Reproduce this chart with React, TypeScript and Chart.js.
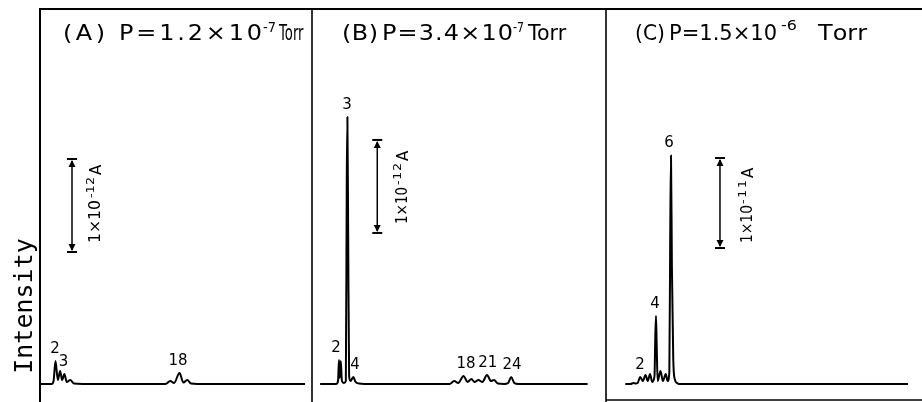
import React, { useEffect, useRef } from "react";
import { Chart, registerables } from "chart.js";

Chart.register(...registerables);

// ---------------- data: mass number (m/e) vs ion current in pA (1e-12 A) ----------------
const massA = [0.1, 1.5, 1.75, 2.0, 2.3, 2.6, 2.85, 3.15, 3.45, 3.9, 4.4, 5.5, 16.2, 16.8, 17.3, 18.0, 18.5, 19.0, 19.5, 20.3, 34.2];
const currentA = [0, 0, 0.032, 0.247, 0.043, 0.14, 0.043, 0.108, 0.022, 0.043, 0.005, 0, 0, 0.032, 0.011, 0.118, 0.016, 0.043, 0.005, 0, 0];

const massB = [-0.5, 1.55, 1.8, 1.92, 2.03, 2.15, 2.3, 2.55, 2.8, 2.92, 3.0, 3.1, 3.22, 3.4, 3.75, 4.05, 4.5, 5.2, 16.1, 16.7, 17.2, 17.9, 18.4, 18.9, 19.3, 19.8, 20.3, 20.9, 21.4, 21.8, 22.3, 23.1, 23.6, 24.0, 24.4, 24.9, 33.8];
const currentB = [0, 0, 0.032, 0.258, 0.065, 0.247, 0.032, 0.011, 0.032, 2.2, 2.871, 1.6, 0.086, 0.032, 0.075, 0.022, 0.005, 0, 0, 0.032, 0.011, 0.086, 0.022, 0.054, 0.022, 0.043, 0.022, 0.097, 0.032, 0.043, 0.005, 0, 0.011, 0.075, 0.011, 0, 0];

const massC = [-0.1, 0.6, 1.0, 1.3, 1.55, 1.9, 2.25, 2.6, 2.9, 3.2, 3.5, 3.8, 3.9, 4.0, 4.1, 4.22, 4.6, 4.92, 5.3, 5.55, 5.78, 5.9, 6.0, 6.12, 6.3, 6.5, 6.8, 7.1, 37.6];
const currentC = [0, 0, 0.11, 0.06, 0.11, 0.78, 0.33, 1.0, 0.33, 1.11, 0.22, 0.89, 5.0, 7.56, 4.0, 0.33, 1.44, 0.33, 1.11, 0.33, 1.33, 17.0, 25.4, 13.0, 2.8, 0.55, 0.11, 0, 0];

// peak labels: text, label mass position, labelled peak mass
const peakTextA = ["2", "3", "18"];
const peakLabelMassA = [1.94, 3.03, 17.8];
const peakMassA = [2.0, 3.15, 18.0];

const peakTextB = ["2", "3", "4", "18", "21", "24"];
const peakLabelMassB = [1.54, 2.95, 3.97, 18.2, 21.0, 24.1];
const peakMassB = [1.92, 3.0, 3.75, 17.9, 20.9, 24.0];

const peakTextC = ["2", "4", "6"];
const peakLabelMassC = [1.87, 3.87, 5.75];
const peakMassC = [1.9, 4.0, 6.0];

// panel titles: [label, "P=...×10", exponent, unit]
const titleA = ["(A)", "P=1.2×10", "-7", "Torr"];
const titleB = ["(B)", "P=3.4×10", "-7", "Torr"];
const titleC = ["(C)", "P=1.5×10", "-6", "Torr"];

// scale bars: amount in pA and exponent text
const barAmountA = 1;
const barAmountB = 1;
const barAmountC = 10;
const barTextA = ["1×10", "-12", "A"];
const barTextB = ["1×10", "-12", "A"];
const barTextC = ["1×10", "-11", "A"];

const yAxisTitle = "Intensity";

// ---------------- drawing helpers ----------------
function drawFitted(ctx: CanvasRenderingContext2D, text: string, x0: number, x1: number, y: number, font: string) {
  ctx.font = font;
  const chars = Array.from(text);
  const widths = chars.map((c) => ctx.measureText(c).width);
  const natural = widths.reduce((a, b) => a + b, 0);
  const target = x1 - x0;
  ctx.save();
  ctx.textAlign = "left";
  ctx.textBaseline = "alphabetic";
  if (natural > target) {
    ctx.translate(x0, y);
    ctx.scale(target / natural, 1);
    ctx.fillText(text, 0, 0);
  } else {
    const stretch = Math.min(target / natural, 1.14);
    const rest = target - natural * stretch;
    const gap = chars.length > 1 ? rest / (chars.length - 1) : 0;
    let x = x0;
    chars.forEach((c, i) => {
      ctx.save();
      ctx.translate(x, y);
      ctx.scale(stretch, 1);
      ctx.fillText(c, 0, 0);
      ctx.restore();
      x += widths[i] * stretch + gap;
    });
  }
  ctx.restore();
}

function seg(ctx: CanvasRenderingContext2D, x0: number, y0: number, x1: number, y1: number, w: number) {
  ctx.beginPath();
  ctx.lineWidth = w;
  ctx.moveTo(x0, y0);
  ctx.lineTo(x1, y1);
  ctx.stroke();
}

const FONT = "'DejaVu Sans', 'Liberation Sans', sans-serif";

const panelDecor = {
  id: "panelDecor",
  afterDraw(chart: any, _args: any, opts: any) {
    const { ctx, chartArea: a, scales } = chart;
    const xs = scales.x;
    const ys = scales.y;
    ctx.save();
    ctx.strokeStyle = "#000";
    ctx.fillStyle = "#000";
    ctx.lineCap = "butt";

    // frame
    seg(ctx, a.left, a.top, a.right, a.top, 2);
    if (opts.frameLeft) seg(ctx, a.left, a.top - 1, a.left, chart.height, 2);
    if (opts.frameRight) seg(ctx, a.right, a.top - 1, a.right, chart.height, 1.6);
    if (opts.frameBottom) seg(ctx, a.left, a.bottom, a.right, a.bottom, 1.6);

    // title
    const tl = opts.titleLayout;
    const tt: string[] = opts.title;
    drawFitted(ctx, tt[0], tl[0], tl[1], 40, `21px ${FONT}`);
    drawFitted(ctx, tt[1], tl[2], tl[3], 40, `21px ${FONT}`);
    drawFitted(ctx, tt[2], tl[4], tl[5], opts.supY, `14px ${FONT}`);
    drawFitted(ctx, tt[3], tl[6], tl[7], 40, `21px ${FONT}`);

    // scale bar
    const b = opts.bar;
    const bx = xs.getPixelForValue(b.m);
    const yb = ys.getPixelForValue(b.base);
    const yt = ys.getPixelForValue(b.base + b.amount);
    seg(ctx, bx, yt + 2, bx, yb - 2, 1.5);
    seg(ctx, bx - 5, yt, bx + 5, yt, 2);
    seg(ctx, bx - 5, yb, bx + 5, yb, 2);
    ctx.beginPath();
    ctx.moveTo(bx, yt + 1);
    ctx.lineTo(bx - 3.5, yt + 8);
    ctx.lineTo(bx + 3.5, yt + 8);
    ctx.closePath();
    ctx.fill();
    ctx.beginPath();
    ctx.moveTo(bx, yb - 1);
    ctx.lineTo(bx - 3.5, yb - 8);
    ctx.lineTo(bx + 3.5, yb - 8);
    ctx.closePath();
    ctx.fill();

    // scale bar text (rotated)
    const L = b.textLayout;
    ctx.save();
    ctx.translate(bx + L[0], yb - L[1]);
    ctx.rotate(-Math.PI / 2);
    drawFitted(ctx, b.text[0], 0, L[2], 0, `15px ${FONT}`);
    drawFitted(ctx, b.text[1], L[3], L[4], -6, `11px ${FONT}`);
    ctx.font = `15px ${FONT}`;
    ctx.textAlign = "left";
    ctx.fillText(b.text[2], L[5], 1);
    ctx.restore();

    // peak labels
    ctx.font = `15px ${FONT}`;
    ctx.textAlign = "center";
    ctx.textBaseline = "middle";
    const mass: number[] = opts.mass;
    const cur: number[] = opts.current;
    opts.labels.forEach((lab: any) => {
      const idx = mass.indexOf(lab.peak);
      const v = idx >= 0 ? cur[idx] : 0;
      ctx.fillText(lab.text, xs.getPixelForValue(lab.m), ys.getPixelForValue(v) - 12);
    });

    // y axis title
    if (opts.yTitle) {
      ctx.save();
      ctx.translate(32, 306);
      ctx.rotate(-Math.PI / 2);
      ctx.font = "25px 'DejaVu Sans Mono', monospace";
      ctx.textAlign = "center";
      ctx.textBaseline = "alphabetic";
      ctx.fillText(opts.yTitle, 0, 0);
      ctx.restore();
    }
    ctx.restore();
  },
};

function makeLabels(texts: string[], ms: number[], peaks: number[]) {
  return texts.map((t, i) => ({ text: t, m: ms[i], peak: peaks[i] }));
}

const panels = [
  {
    mass: massA,
    current: currentA,
    padding: { left: 40, top: 9, right: 610, bottom: 2 },
    x: [0, 35.1],
    y: [-0.172, 4.032],
    deco: {
      frameLeft: true,
      frameRight: true,
      frameBottom: false,
      title: titleA,
      titleLayout: [63, 105, 119, 262, 263, 276, 279, 306],
      supY: 32,
      bar: { m: 4.13, base: 1.419, amount: barAmountA, text: barTextA, textLayout: [28, 9, 43, 45, 66, 68] },
      labels: makeLabels(peakTextA, peakLabelMassA, peakMassA),
      yTitle: yAxisTitle,
    },
  },
  {
    mass: massB,
    current: currentB,
    padding: { left: 312, top: 9, right: 316, bottom: 2 },
    x: [-1.538, 36.154],
    y: [-0.172, 4.032],
    deco: {
      frameLeft: false,
      frameRight: true,
      frameBottom: false,
      title: titleB,
      titleLayout: [342, 378, 382, 513, 513, 524, 528, 570],
      supY: 32,
      bar: { m: 6.83, base: 1.624, amount: barAmountB, text: barTextB, textLayout: [30, 9, 37, 39, 61, 63] },
      labels: makeLabels(peakTextB, peakLabelMassB, peakMassB),
      yTitle: null,
    },
  },
  {
    mass: massC,
    current: currentC,
    padding: { left: 606, top: 9, right: 0, bottom: 2 },
    x: [-2.667, 39.467],
    y: [-1.778, 41.67],
    deco: {
      frameLeft: false,
      frameRight: false,
      frameBottom: true,
      title: titleC,
      titleLayout: [635, 665, 669, 777, 781, 797, 818, 867],
      supY: 30,
      bar: { m: 12.53, base: 15.11, amount: barAmountC, text: barTextC, textLayout: [32, 5, 38, 39, 63, 65] },
      labels: makeLabels(peakTextC, peakLabelMassC, peakMassC),
      yTitle: null,
    },
  },
];

export default function App() {
  const refs = useRef<(HTMLCanvasElement | null)[]>([]);

  useEffect(() => {
    const charts = panels.map((p, i) => {
      const canvas = refs.current[i] as HTMLCanvasElement;
      return new Chart(canvas, {
        type: "line",
        data: {
          datasets: [
            {
              data: p.mass.map((m, k) => ({ x: m, y: p.current[k] })),
              borderColor: "#000",
              borderWidth: 2,
              pointRadius: 0,
              fill: false,
              cubicInterpolationMode: "monotone",
              borderJoinStyle: "round",
            } as any,
          ],
        },
        options: {
          responsive: false,
          animation: false,
          devicePixelRatio: 1,
          layout: { padding: p.padding },
          scales: {
            x: { type: "linear", display: false, min: p.x[0], max: p.x[1] },
            y: { type: "linear", display: false, min: p.y[0], max: p.y[1] },
          },
          plugins: {
            legend: { display: false },
            tooltip: { enabled: false },
            panelDecor: { ...p.deco, mass: p.mass, current: p.current },
          } as any,
        },
        plugins: [panelDecor as any],
      });
    });
    return () => charts.forEach((c) => c.destroy());
  }, []);

  return (
    <div style={{ position: "absolute", left: 0, top: 0, width: 922, height: 402, background: "#fff" }}>
      {[0, 1, 2].map((i) => (
        <canvas
          key={i}
          ref={(el) => {
            refs.current[i] = el;
          }}
          width={922}
          height={402}
          style={{ position: "absolute", left: 0, top: 0 }}
        />
      ))}
    </div>
  );
}
